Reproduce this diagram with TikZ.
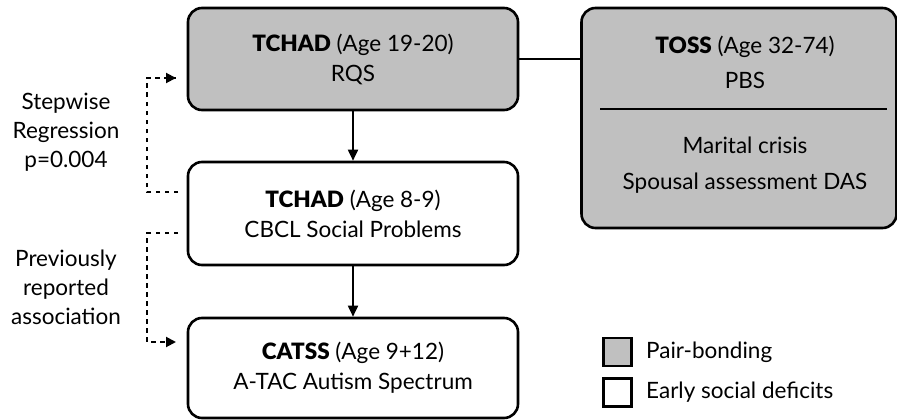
\documentclass[tikz,border=0pt]{standalone}
\usepackage{fontspec}
\setmainfont{Lato}[BoldFont={Lato Black}]
\usetikzlibrary{arrows.meta}
\definecolor{boxgray}{RGB}{192,192,192}
\tikzset{
  boxbase/.style={draw=black, line width=2.6pt, rounded corners=14pt, align=center,
    font=\fontsize{22.5}{30}\selectfont, inner sep=0pt},
  graybox/.style={boxbase, fill=boxgray},
  whitebox/.style={boxbase, fill=white},
  txt/.style={align=center, font=\fontsize{22.5}{29}\selectfont, inner sep=0pt},
  solidarrow/.style={line width=1.8pt, -{Triangle[length=11pt,width=10pt]}},
  dotline/.style={line width=2.8pt, dash pattern=on 4.5pt off 4.5pt},
  legbox/.style={draw=black, line width=2.6pt, minimum width=28pt, minimum height=28pt, inner sep=0pt},
  legtxt/.style={anchor=west, font=\fontsize{22.5}{25}\selectfont, inner sep=0pt}
}
\begin{document}
\begin{tikzpicture}[x=1pt,y=-1pt]
\useasboundingbox (0,0) rectangle (897,420);
% main boxes
\node[graybox, minimum width=330pt, minimum height=102pt] (b1) at (353,59)
  {\textbf{TCHAD} (Age 19-20)\\RQS};
\node[whitebox, minimum width=330pt, minimum height=103pt] (b2) at (353,213.5)
  {\textbf{TCHAD} (Age 8-9)\\CBCL Social Problems};
\node[whitebox, minimum width=330pt, minimum height=100pt] (b3) at (353,368)
  {\textbf{CATSS} (Age 9+12)\\A-TAC Autism Spectrum};
% TOSS box
\node[graybox, minimum width=315pt, minimum height=220pt] (toss) at (739,118) {};
\node[txt, font=\fontsize{22.5}{35}\selectfont] (tosst) at (745,62) {\textbf{TOSS} (Age 32-74)\\PBS};
\node[txt, font=\fontsize{22.5}{36}\selectfont] (tossb) at (745,165) {Marital crisis\\Spousal assessment DAS};
\coordinate (dl) at (600,109);
\coordinate (dr) at (887,109);
\draw[line width=2pt] (dl) -- (dr);
% connectors
\draw[line width=2pt] (b1.east) -- (toss.west |- b1.east);
\draw[solidarrow] (b1.south) -- (b2.north);
\draw[solidarrow] (b2.south) -- (b3.north);
% dotted connectors
\coordinate (s1) at (178,192);
\coordinate (k1) at (147,192);
\coordinate (k2) at (147,78);
\coordinate (e1) at (176,78);
\draw[dotline] (s1) -- (k1) -- (k2) -- (e1);
\draw[-{Triangle[length=10pt,width=10pt]}, line width=2pt] (e1) ++(-4,0) -- (e1);
\coordinate (s2) at (178,233);
\coordinate (k3) at (147,233);
\coordinate (k4) at (147,342);
\coordinate (e2) at (176,342);
\draw[dotline] (s2) -- (k3) -- (k4) -- (e2);
\draw[-{Triangle[length=10pt,width=10pt]}, line width=2pt] (e2) ++(-4,0) -- (e2);
% labels
\node[txt] (lab1) at (66,132) {Stepwise\\Regression\\p=0.004};
\node[txt] (lab2) at (66,287) {Previously\\reported\\association};
% legend
\node[legbox, fill=boxgray] (lg1) at (617.5,352) {};
\node[legbox, fill=white] (lg2) at (617.5,392.5) {};
\node[legtxt] (lt1) at (646,352) {Pair-bonding};
\node[legtxt] (lt2) at (646,392.5) {Early social deficits};
\end{tikzpicture}
\end{document}
